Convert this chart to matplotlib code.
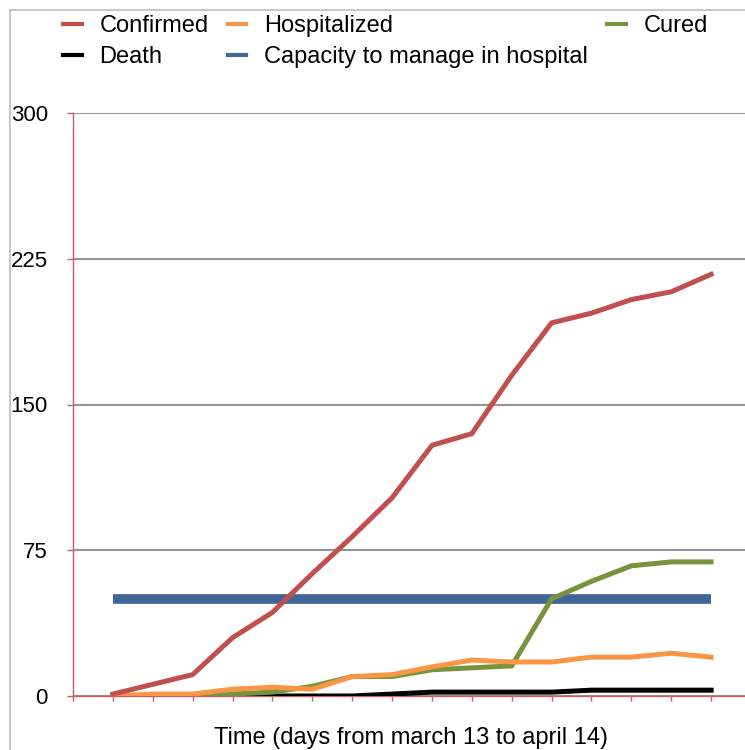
import matplotlib
matplotlib.use("Agg")
import matplotlib.pyplot as plt
from matplotlib.lines import Line2D

plt.rcParams['font.family'] = ['Liberation Sans', 'DejaVu Sans']

# day index (march 13 -> april 14)
days = list(range(1, 17))
confirmed = [1, 6, 11, 30, 43, 63, 82, 102, 129, 135, 165, 192, 197, 204, 208, 217]
hospitalized = [0, 1, 1, 3.5, 4.5, 3.5, 10, 11, 15, 18.5, 17.5, 17.5, 20, 20, 22, 20]
cured = [0, 0, 0, 1, 2, 5, 10, 10, 13.5, 14.5, 15.5, 50, 59, 67, 69, 69]
death = [0, 0, 0, 0, 0, 0, 0, 1, 2, 2, 2, 2, 3, 3, 3, 3]
capacity = [50] * 16
yticks = [0, 75, 150, 225, 300]

c_red = '#C0504D'
c_orange = '#F79646'
c_green = '#77933C'
c_blue = '#41679A'
c_axis = '#C86060'

W, H = 745, 750
fig = plt.figure(figsize=(W / 100, H / 100), dpi=100)

# chart frame (left and top edges visible)
fig.add_artist(Line2D([10 / W, 10 / W], [0, 1 - 10 / H], color='#BDBDBD', lw=1.2))
fig.add_artist(Line2D([10 / W, 1], [1 - 10 / H, 1 - 10 / H], color='#BDBDBD', lw=1.2))

ax = fig.add_axes([73 / W, 54 / H, (751 - 73) / W, (696 - 113) / H])
ax.set_xlim(0, 17)
ax.set_ylim(0, 300)

ax.plot(days, capacity, color=c_blue, lw=7, solid_capstyle='butt', zorder=2)
ax.plot(days, death, color='black', lw=3.6, zorder=3)
ax.plot(days, cured, color=c_green, lw=3.6, zorder=4)
ax.plot(days, hospitalized, color=c_orange, lw=3.6, zorder=5)
ax.plot(days, confirmed, color=c_red, lw=3.6, zorder=6)

ax.set_yticks(yticks)
ax.set_yticklabels([str(v) for v in yticks], fontsize=16)
ax.set_xticks(range(0, 18))
ax.set_xticklabels([])
ax.yaxis.grid(True, color='#949494', lw=1.5)
ax.set_axisbelow(True)
ax.tick_params(axis='y', length=4, width=1, color=c_axis, pad=14)
ax.tick_params(axis='x', length=3.5, width=1, color=c_axis)
for side in ['top', 'right']:
    ax.spines[side].set_visible(False)
for side in ['left', 'bottom']:
    ax.spines[side].set_color(c_axis)
    ax.spines[side].set_linewidth(1)

fig.text(411 / W, 1 - 738 / H, 'Time (days from march 13 to april 14)',
         fontsize=17, ha='center', va='center')

# legend, column-wise order gives the 3-column layout
handles = [
    Line2D([], [], color=c_red, lw=3),
    Line2D([], [], color='black', lw=3),
    Line2D([], [], color=c_orange, lw=3),
    Line2D([], [], color=c_blue, lw=3),
    Line2D([], [], color=c_green, lw=3),
]
labels = ['Confirmed', 'Death', 'Hospitalized', 'Capacity to manage in hospital', 'Cured']
fig.legend(handles, labels, ncol=3, loc='upper left', bbox_to_anchor=(63 / W, 1 - 15 / H),
           frameon=False, fontsize=17, handlelength=0.8, handletextpad=0.75,
           columnspacing=0.8, borderpad=0, borderaxespad=0, labelspacing=0.4)

fig.savefig('out.png', dpi=100)
